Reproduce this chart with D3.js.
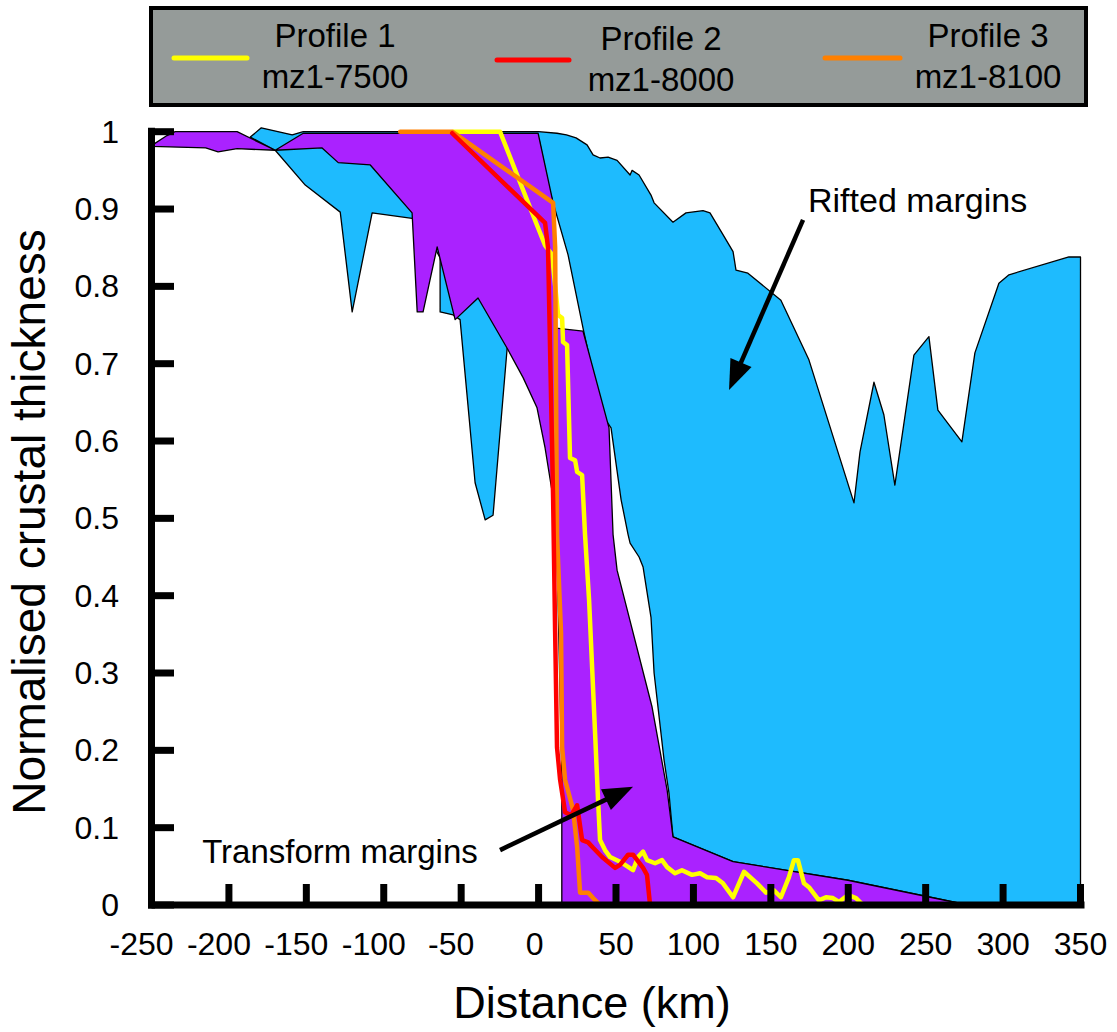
<!DOCTYPE html>
<html>
<head>
<meta charset="utf-8">
<script src="https://cdn.jsdelivr.net/npm/d3@7"></script>
<style>
  html, body { margin: 0; padding: 0; background: #ffffff; }
  svg { display: block; font-family: "Liberation Sans", Arial, Helvetica, sans-serif; }
</style>
</head>
<body>
<svg id="chart" width="1117" height="1032"></svg>
<script>
// ---------------- DATA ----------------
const xTickValues = [-250, -200, -150, -100, -50, 0, 50, 100, 150, 200, 250, 300, 350];
const yTickValues = [0, 0.1, 0.2, 0.3, 0.4, 0.5, 0.6, 0.7, 0.8, 0.9, 1];
const yTickLabels = ["0", "0.1", "0.2", "0.3", "0.4", "0.5", "0.6", "0.7", "0.8", "0.9", "1"];

// Rifted margins envelope (closed polygon, km / normalised thickness)
const riftedKm = [-186.2, -179.1, -159.1, -152.0, 0, 11.9, 18, 24.2, 31.3, 35.2, 39.7, 44.9, 50.7, 59.1, 60.4, 64.9, 72.6, 74.6, 86.8, 95.2, 106.2, 110.7, 119.1, 125.6, 127.5, 135.2, 156.5, 174.6, 203.7, 207.6, 216.6, 223.0, 230.1, 242.4, 252.1, 257.9, 273.4, 281.8, 297.3, 303.8, 342.5, 350, 350, 277.3, 199.8, 125.6, 86.8, 84.2, 81.0, 74.6, 72.6, 67.5, 64.9, 59.1, 57.8, 53.3, 46.8, 41.0, 28.7, 19.0, 7.4, 0.3, -8.7, -20.3, -29.4, -34.5, -41.0, -50.7, -55.2, -63.6, -63.6, -70.0, -81.7, -107.5, -120.4, -128.1, -150.7, -170.1];
const riftedVal = [0.993, 1.005, 0.996, 1.0, 1.0, 0.998, 0.996, 0.992, 0.983, 0.970, 0.966, 0.967, 0.963, 0.944, 0.950, 0.944, 0.918, 0.908, 0.883, 0.895, 0.898, 0.895, 0.867, 0.845, 0.821, 0.817, 0.782, 0.705, 0.520, 0.586, 0.676, 0.634, 0.543, 0.711, 0.735, 0.640, 0.599, 0.714, 0.804, 0.815, 0.838, 0.838, 0, 0, 0.032, 0.056, 0.088, 0.145, 0.188, 0.300, 0.372, 0.437, 0.450, 0.468, 0.479, 0.524, 0.617, 0.634, 0.746, 0.841, 0.922, 0.990, 0.847, 0.720, 0.504, 0.498, 0.546, 0.757, 0.763, 0.767, 0.837, 0.860, 0.888, 0.895, 0.767, 0.896, 0.931, 0.976];

// Transform margins envelope (closed polygon)
const transformKm = [-250, -240, -234.7, -194.7, -170.1, -152, -0.3, 9.4, 11.3, 28.7, 45.5, 48.1, 50.7, 73.3, 83.0, 86.8, 125.6, 199.8, 277.3, 15.0, 15.0, 12.0, 9.4, 4.2, -1.0, -10.0, -20.3, -39.1, -53.9, -65.5, -74.6, -78.4, -81.7, -108.7, -129.4, -139.8, -170.1, -194.7, -207, -215, -250];
const transformVal = [0.982, 0.995, 1.0, 1.0, 0.976, 0.998, 0.998, 0.908, 0.746, 0.742, 0.617, 0.479, 0.433, 0.256, 0.149, 0.088, 0.056, 0.032, 0, 0, 0.166, 0.446, 0.526, 0.591, 0.643, 0.682, 0.720, 0.785, 0.757, 0.851, 0.767, 0.767, 0.895, 0.957, 0.960, 0.979, 0.976, 0.978, 0.974, 0.979, 0.981];

// Profile 1 (mz1-7500)
const profile1Km = [-55.2, -24.9, -1.0, 4.2, 8.7, 12.6, 15.2, 15.8, 18.4, 20.3, 23.6, 24.9, 28.1, 30.0, 32.6, 36.5, 38.4, 39.7, 42.9, 46.2, 52.6, 61.0, 64.2, 67.5, 70.1, 75.2, 79.7, 83.0, 88.1, 92.6, 99.1, 104.3, 108.8, 114.6, 119.1, 125.6, 132.7, 141.1, 146.9, 152.0, 156.5, 161.7, 164.9, 167.5, 171.4, 174.6, 181.1, 185.6, 190.1, 194.0, 199.8, 205.0, 209.5];
const profile1Val = [1.0, 1.0, 0.879, 0.853, 0.841, 0.763, 0.759, 0.728, 0.724, 0.578, 0.575, 0.560, 0.556, 0.479, 0.395, 0.222, 0.136, 0.084, 0.071, 0.062, 0.056, 0.045, 0.062, 0.069, 0.058, 0.054, 0.058, 0.049, 0.041, 0.045, 0.039, 0.041, 0.036, 0.035, 0.028, 0.010, 0.043, 0.028, 0.016, 0.019, 0.010, 0.036, 0.058, 0.058, 0.028, 0.023, 0.006, 0.010, 0.009, 0.004, 0.013, 0.009, 0.0];

// Profile 2 (mz1-8000)
const profile2Km = [-55.8, 4.2, 6.1, 9.4, 10.7, 11.9, 13.9, 17.1, 21.0, 24.9, 28.1, 32.0, 35.2, 41.0, 49.4, 52.6, 57.8, 61.0, 67.5, 70.0, 72.0];
const profile2Val = [0.998, 0.882, 0.850, 0.524, 0.352, 0.204, 0.162, 0.120, 0.116, 0.129, 0.084, 0.081, 0.074, 0.062, 0.048, 0.052, 0.065, 0.065, 0.048, 0.039, 0.0];

// Profile 3 (mz1-8100)
const profile3Km = [-89.4, -55.8, 9.4, 10.7, 11.9, 14.5, 15.2, 17.1, 22.3, 24.9, 26.8, 32.0, 35.2, 39.7, 42.9];
const profile3Val = [1.0, 1.0, 0.908, 0.850, 0.478, 0.352, 0.204, 0.162, 0.123, 0.075, 0.016, 0.016, 0.009, 0.0, 0.0];

const legendTitles = ["Profile 1", "Profile 2", "Profile 3"];
const legendNames = ["mz1-7500", "mz1-8000", "mz1-8100"];
const profileColors = ["#ffff00", "#ff0000", "#ff8000"];

// ---------------- DRAW ----------------
const svg = d3.select("#chart");
const x = d3.scaleLinear().domain([-250, 350]).range([151.5, 1080.5]);
const y = d3.scaleLinear().domain([0, 1]).range([905, 131.7]);

const zip = (a, b) => a.map((v, i) => [v, b[i]]);
const poly = d3.line().x(d => x(d[0])).y(d => y(d[1])).curve(d3.curveLinearClosed);
const line = d3.line().x(d => x(d[0])).y(d => y(d[1]));

// envelopes
svg.append("path").attr("d", poly(zip(riftedKm, riftedVal)))
  .attr("fill", "#1ebbfe").attr("stroke", "#000").attr("stroke-width", 1.3).attr("stroke-linejoin", "round");
svg.append("path").attr("d", poly(zip(transformKm, transformVal)))
  .attr("fill", "#aa22ff").attr("stroke", "#000").attr("stroke-width", 1.3).attr("stroke-linejoin", "round");

// profiles
const profiles = [zip(profile1Km, profile1Val), zip(profile3Km, profile3Val), zip(profile2Km, profile2Val)];
const profCols = [profileColors[0], profileColors[2], profileColors[1]];
profiles.forEach((p, i) => {
  svg.append("path").attr("d", line(p)).attr("fill", "none")
    .attr("stroke", profCols[i]).attr("stroke-width", 4.5)
    .attr("stroke-linejoin", "round").attr("stroke-linecap", "round");
});

// axes
const axisG = svg.append("g");
axisG.append("line").attr("x1", 151.5).attr("x2", 151.5).attr("y1", y(1) - 4).attr("y2", 908.5)
  .attr("stroke", "#000").attr("stroke-width", 7);
axisG.append("line").attr("x1", 148).attr("x2", x(350) + 4).attr("y1", 905).attr("y2", 905)
  .attr("stroke", "#000").attr("stroke-width", 7);
xTickValues.forEach(v => {
  axisG.append("line").attr("x1", x(v)).attr("x2", x(v)).attr("y1", 905).attr("y2", 884)
    .attr("stroke", "#000").attr("stroke-width", 7);
  axisG.append("text").attr("x", x(v) + (v < 0 ? -10 : (v === 0 ? -4 : 0))).attr("y", 955)
    .attr("text-anchor", "middle").attr("font-size", 32).attr("fill", "#000").text(v);
});
yTickValues.forEach((v, i) => {
  axisG.append("line").attr("x1", 151.5).attr("x2", 174).attr("y1", y(v)).attr("y2", y(v))
    .attr("stroke", "#000").attr("stroke-width", 7);
  axisG.append("text").attr("x", 119).attr("y", y(v) + 11)
    .attr("text-anchor", "end").attr("font-size", 32).attr("fill", "#000").text(yTickLabels[i]);
});

// axis titles
svg.append("text").attr("x", 592).attr("y", 1018).attr("text-anchor", "middle")
  .attr("font-size", 45).attr("fill", "#000").text("Distance (km)");
svg.append("text").attr("transform", "translate(45,522) rotate(-90)").attr("text-anchor", "middle")
  .attr("font-size", 46).attr("fill", "#000").text("Normalised crustal thickness");

// annotations
function arrow(k0, v0, k1, v1) {
  const x0 = x(k0), y0 = y(v0), x1 = x(k1), y1 = y(v1);
  const dx = x1 - x0, dy = y1 - y0, L = Math.hypot(dx, dy);
  const ux = dx / L, uy = dy / L, hl = 30, hw = 11.5;
  const bx = x1 - ux * hl, by = y1 - uy * hl;
  svg.append("line").attr("x1", x0).attr("y1", y0).attr("x2", bx + ux * 4).attr("y2", by + uy * 4)
    .attr("stroke", "#000").attr("stroke-width", 4.5);
  svg.append("path").attr("d", `M${x1},${y1}L${bx - uy * hw},${by + ux * hw}L${bx + uy * hw},${by - ux * hw}Z`)
    .attr("fill", "#000");
}
svg.append("text").attr("x", x(174.0)).attr("y", y(0.896)).attr("font-size", 34).attr("fill", "#000").text("Rifted margins");
arrow(170.8, 0.886, 123.0, 0.666);
svg.append("text").attr("x", x(-217.3)).attr("y", y(0.054)).attr("font-size", 33).attr("fill", "#000").text("Transform margins");
arrow(-24.9, 0.071, 61.0, 0.153);

// legend
const leg = svg.append("g");
leg.append("rect").attr("x", 151).attr("y", 8).attr("width", 935).attr("height", 97)
  .attr("fill", "#959b99").attr("stroke", "#000").attr("stroke-width", 4);
const legLineX = [[174, 247], [497, 569], [825, 900]];
const legLineY = [58, 60, 58];
const legTextX = [335, 661, 988];
const legDy = [0, 3, 0];
legendTitles.forEach((t, i) => {
  leg.append("line").attr("x1", legLineX[i][0]).attr("x2", legLineX[i][1]).attr("y1", legLineY[i]).attr("y2", legLineY[i])
    .attr("stroke", profileColors[i]).attr("stroke-width", 5).attr("stroke-linecap", "round");
  leg.append("text").attr("x", legTextX[i]).attr("y", 47 + legDy[i]).attr("text-anchor", "middle")
    .attr("font-size", 33).attr("fill", "#000").text(t);
  leg.append("text").attr("x", legTextX[i]).attr("y", 88 + legDy[i]).attr("text-anchor", "middle")
    .attr("font-size", 33).attr("fill", "#000").text(legendNames[i]);
});
</script>
</body>
</html>
